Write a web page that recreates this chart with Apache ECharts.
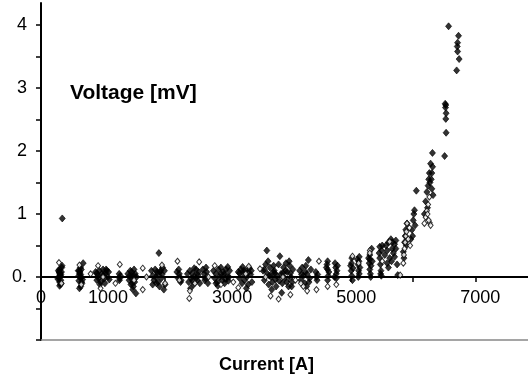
<!DOCTYPE html>
<html>
<head>
<meta charset="utf-8">
<script src="https://cdn.jsdelivr.net/npm/echarts@6/dist/echarts.min.js"></script>
<style>html,body{margin:0;padding:0;background:#fff}#c{width:528px;height:378px}</style>
</head>
<body>
<div id="c"></div>
<script>
// Filled diamonds: [current A, voltage mV]
var filledPoints = [
[280,0.10],[300,0.05],[310,0.02],[290,-0.02],[320,-0.05],[300,-0.08],[285,0.0],[330,0.08],[315,-0.12],[295,0.12],[340,0.18],[335,0.15],[270,-0.03],[305,0.07],[325,-0.1],[310,0.03],[343,0.93],
[600,0.1],[620,0.05],[640,-0.02],[610,-0.06],[650,0.0],[630,0.08],[660,-0.1],[680,0.22],[640,-0.15],[620,-0.18],[650,0.12],[610,0.02],[670,-0.04],[635,0.15],
[880,0.08],[900,-0.05],[920,0.02],[940,0.1],[960,-0.08],[980,0.05],[1000,0.12],[1020,-0.02],[1040,0.06],[1060,0.1],[1080,0.0],[1100,-0.04],[950,-0.12],[1010,0.03],[930,-0.02],[1050,0.12],
[1260,0.05],[1270,-0.02],[1280,0.02],[1265,-0.05],
[1400,0.05],[1420,-0.05],[1440,0.1],[1450,-0.12],[1470,0.02],[1480,-0.2],[1500,0.12],[1510,-0.08],[1520,0.05],[1530,-0.26],[1460,0.08],[1490,-0.15],[1540,0.0],[1430,0.02],
[1780,0.1],[1800,0.02],[1820,-0.05],[1840,0.12],[1860,-0.1],[1880,0.05],[1900,0.38],[1910,-0.15],[1920,0.08],[1940,-0.02],[1960,0.15],[1980,-0.2],[1850,0.0],[1890,-0.08],[1930,0.1],[2000,-0.12],
[2190,0.08],[2210,-0.02],[2230,0.05],[2250,-0.08],[2220,0.12],[2240,0.0],[2260,-0.05],
[2360,0.05],[2380,-0.08],[2400,0.1],[2420,-0.02],[2440,0.06],[2460,-0.12],[2480,0.02],[2500,0.12],[2520,-0.05],[2540,0.08],[2560,-0.1],[2410,-0.18],[2470,0.14],
[2610,0.12],[2630,0.05],[2650,-0.02],[2670,0.08],[2690,-0.1],[2640,-0.05],[2660,0.15],
[2780,0.1],[2800,-0.02],[2820,0.05],[2840,-0.08],[2860,0.12],[2880,0.0],[2900,0.15],[2920,-0.05],[2940,0.08],[2960,-0.1],[2980,0.12],[3000,0.02],[3020,-0.06],[3040,0.1],[2850,-0.14],[2950,0.04],[3010,0.16],
[3180,0.08],[3200,-0.02],[3220,0.12],[3240,-0.1],[3260,0.05],[3280,-0.05],[3300,0.1],[3320,0.0],[3340,-0.12],[3360,0.14],[3380,0.04],[3400,-0.08],[3250,0.16],[3310,-0.18],
[3580,0.1],[3600,-0.05],[3620,0.2],[3640,0.42],[3650,0.05],[3670,-0.12],[3690,0.15],[3710,0.0],[3730,-0.08],[3750,0.18],[3770,0.06],[3790,-0.15],[3660,0.25],[3720,-0.2],[3760,0.1],[3800,0.02],
[3830,0.2],[3850,0.33],[3870,0.05],[3890,-0.1],[3910,0.15],[3930,-0.02],[3950,0.22],[3970,0.08],[3990,-0.15],[4010,0.18],[4030,0.0],[4050,-0.08],[3880,-0.25],[3940,0.1],[4000,0.25],[4060,0.12],
[4170,0.1],[4190,-0.05],[4210,0.15],[4230,0.02],[4250,-0.1],[4270,0.18],[4290,0.05],[4310,0.27],[4330,-0.02],[4350,0.12],[4280,-0.15],
[4430,0.08],[4440,0.0],[4450,-0.05],[4460,0.04],
[4610,0.2],[4620,0.12],[4630,0.02],[4620,-0.05],[4600,0.15],[4640,0.08],
[4740,0.22],[4750,0.15],[4760,0.05],[4770,0.1],[4730,0.0],[4780,0.18],
[4990,0.18],[5000,0.1],[5010,0.02],[5020,-0.05],[5030,0.14],[5005,0.22],
[5100,0.28],[5110,0.2],[5120,0.1],[5130,0.05],[5140,0.15],[5115,0.0],[5125,0.25],
[5280,0.3],[5290,0.22],[5300,0.12],[5310,0.05],[5320,0.18],[5300,0.35],[5315,0.0],[5330,0.45],[5340,0.25],
[5450,0.38],[5460,0.3],[5470,0.2],[5480,0.1],[5490,0.42],[5475,0.05],[5500,0.5],[5485,0.02],
[5540,0.35],[5560,0.5],[5580,0.42],[5600,0.55],[5620,0.3],[5640,0.6],[5660,0.45],[5680,0.38],[5700,0.52],[5720,0.58],[5740,0.2],[5600,0.15],[5650,0.25],[5750,0.03],[5700,0.32],
[5840,0.4],[5860,0.55],[5870,0.65],[5880,0.75],[5890,0.5],[5900,0.85],[5850,0.3],
[5960,0.6],[5980,0.75],[6000,0.9],[6010,1.0],[6020,1.06],[5990,0.65],[6030,0.82],[6050,1.37],
[6180,1.0],[6200,1.2],[6220,1.35],[6240,1.45],[6250,1.55],[6260,1.65],[6280,1.8],[6300,1.4],[6310,1.97],[6320,1.3],[6230,1.1],[6270,1.5],[6312,1.75],[6300,1.65],[6290,1.55],
[6506,1.92],[6530,2.29],[6525,2.51],[6530,2.6],[6520,2.69],[6525,2.73],[6515,2.75],
[6570,3.98],[6730,3.83],[6715,3.72],[6710,3.66],[6715,3.58],[6740,3.46],[6700,3.28],
// extra density in the flat band
[300,-0.14],[320,0.04],[290,0.08],[640,0.04],[655,-0.08],[615,0.1],[900,0.06],[1030,-0.1],[1090,0.08],[1450,-0.02],[1500,0.02],[1470,-0.1],
[1800,-0.12],[1870,0.08],[1950,0.04],[1990,0.1],[2440,-0.06],[2500,-0.02],[2530,0.03],[2820,-0.1],[2900,0.05],[2970,-0.03],[3030,0.0],
[3200,0.06],[3270,0.1],[3330,0.06],[3390,0.1],[3600,0.12],[3680,0.02],[3740,0.08],[3780,-0.04],[3840,-0.06],[3900,0.06],[3960,-0.08],[4020,0.06],[4040,-0.15],
[4200,0.04],[4260,0.08],[4320,-0.08],[4620,0.25],[4760,-0.02],[5010,0.3],[5130,0.32],[5300,0.28],[5460,0.48],[5580,0.22],[5660,0.55],[5720,0.45]
];
// Open diamonds: [current A, voltage mV]
var openPoints = [
[290,0.23],[330,-0.1],[620,0.19],[650,-0.12],[920,0.18],[960,-0.18],[1000,0.0],[1270,0.2],[1500,-0.05],[1640,0.14],[1640,-0.2],[1700,0.0],[1950,0.19],[2000,-0.1],[2200,0.25],[2230,-0.05],[2400,-0.22],[2390,-0.34],[2550,0.24],[2480,-0.1],[2800,0.18],[2900,-0.12],[3350,0.17],[3180,-0.17],[3300,0.05],[3530,0.13],[3700,-0.3],[3620,0.0],[3830,-0.35],[4020,-0.28],[4190,-0.1],[4230,-0.15],[4290,-0.22],[4480,0.25],[4440,-0.2],[4620,-0.15],[4760,-0.12],[5020,0.33],[5120,0.22],[5300,0.42],[5300,0.38],[5500,0.25],[5620,0.56],[5790,0.03],[3100,-0.08],[2700,0.0],[3900,0.0],[4100,-0.05],[1200,-0.1],[800,0.05],
[5840,0.22],[5850,0.35],[5860,0.45],[5870,0.55],[5880,0.65],[5890,0.72],[5900,0.85],[5920,0.6],[5950,0.5],[5940,0.78],[6180,0.85],[6200,0.95],[6220,1.05],[6240,1.15],[6260,1.27],[6265,0.86],[6280,0.82],[6230,1.0],[6250,0.9]
];
var xLabelValues = [0, 1000, 3000, 5000, 7000];
var yLabelText = {"4":"4","3":"3","2":"2","1":"1","0":"0."};
var yTitle = "Voltage [mV]";
var xTitle = "Current [A]";

var FONT = "'Liberation Sans', Arial, sans-serif";
var chart = echarts.init(document.getElementById('c'));
chart.setOption({
  animation: false,
  backgroundColor: '#fff',
  textStyle: {fontFamily: FONT},
  title: [{
    text: yTitle, left: 65, top: 78,
    textStyle: {fontFamily: FONT, fontSize: 21, fontWeight: 'bold', color: '#000'}
  }, {
    text: xTitle, left: 214, top: 351,
    textStyle: {fontFamily: FONT, fontSize: 18, fontWeight: 'bold', color: '#000'}
  }],
  grid: {left: 41, right: 0, top: 3, bottom: 38, containLabel: false, outerBoundsMode: 'none'},
  xAxis: [{
    type: 'value', min: 0, max: 7850, interval: 1000, position: 'bottom', offset: -63,
    axisLine: {onZero: false, lineStyle: {color: '#000', width: 2}},
    axisTick: {show: true, length: 5, lineStyle: {color: '#000', width: 1.5}},
    splitLine: {show: false},
    axisLabel: {
      margin: 12, color: '#000', fontSize: 18, fontFamily: FONT,
      showMaxLabel: false,
      formatter: function (v) {
        if (xLabelValues.indexOf(v) < 0) return '';
        return v === 0 ? '{z|0}' : '{s|' + v + '}';
      },
      rich: {
        z: {fontSize: 18, fontFamily: FONT, color: '#000'},
        s: {fontSize: 18, fontFamily: FONT, color: '#000', padding: [0, 0, 0, 10]}
      }
    }
  }, {
    type: 'value', min: 0, max: 7850, position: 'bottom',
    axisLine: {onZero: false, lineStyle: {color: '#888', width: 1.5}},
    axisTick: {show: false}, axisLabel: {show: false}, splitLine: {show: false}
  }],
  yAxis: {
    type: 'value', min: -1, max: 4.35, interval: 0.5,
    axisLine: {show: true, onZero: false, lineStyle: {color: '#000', width: 2}},
    axisTick: {show: true, length: 5, lineStyle: {color: '#000', width: 1.5}},
    splitLine: {show: false},
    axisLabel: {
      margin: 14, color: '#000', fontSize: 18, fontFamily: FONT, showMaxLabel: false,
      formatter: function (v) {
        var k = String(Math.round(v));
        if (Math.abs(v - Math.round(v)) > 1e-9) return '';
        return yLabelText[k] || '';
      }
    }
  },
  series: [{
    type: 'scatter', xAxisIndex: 0, symbol: 'diamond', symbolSize: [6, 7],
    itemStyle: {color: '#000', borderColor: '#000', borderWidth: 0.8},
    data: filledPoints
  }, {
    type: 'scatter', xAxisIndex: 0, symbol: 'diamond', symbolSize: [5, 6],
    itemStyle: {color: '#fff', borderColor: '#000', borderWidth: 1},
    data: openPoints
  }]
});
</script>
</body>
</html>
